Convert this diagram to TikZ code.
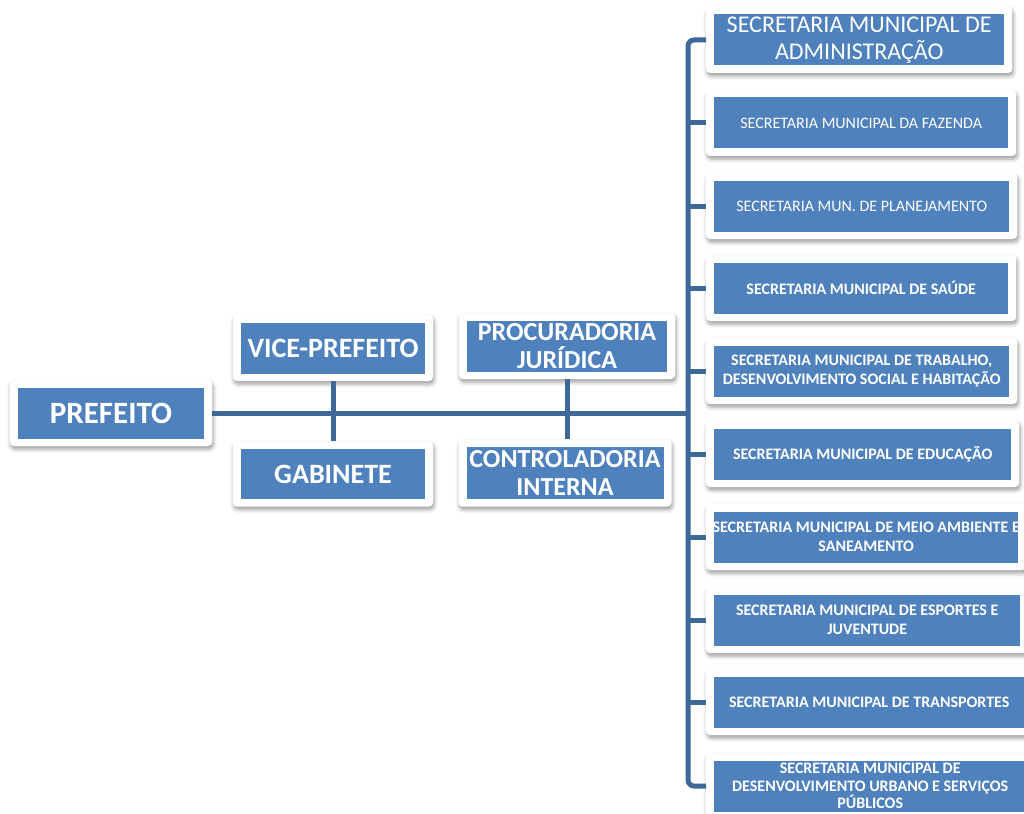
\documentclass[tikz,border=0pt]{standalone}
\usepackage{fontspec}
\setmainfont{Carlito}
\usetikzlibrary{shadows.blur}
\definecolor{orgblue}{RGB}{79,129,189}
\definecolor{orgline}{RGB}{62,104,152}

\begin{document}
\begin{tikzpicture}
  [x=1pt,y=-1pt,
   box/.style={fill=white,rounded corners=4pt,inner sep=0pt,minimum height=66pt,
     text=white,align=center,
     blur shadow={shadow xshift=1pt,shadow yshift=-3pt,shadow blur radius=4pt,shadow opacity=40},
     path picture={\fill[orgblue,sharp corners]
       ([shift={(8pt,-7.5pt)}]path picture bounding box.north west) rectangle
       ([shift={(-8pt,7.5pt)}]path picture bounding box.south east);}},
   sec/.style={box,anchor=west,font=\fontsize{16}{19}\selectfont\bfseries},
   big/.style={box,font=\fontsize{28}{30}\selectfont\bfseries},
   mid/.style={box,font=\fontsize{26}{28}\selectfont\bfseries},
   link/.style={draw=orgline,line width=5pt}]

  \clip (0,0) rectangle (1024,813);

  \node[big,minimum width=202pt,font=\fontsize{31}{33}\selectfont\bfseries] (pref) at (111,413) {PREFEITO};
  \node[big,minimum width=200pt] (vice) at (333,348) {VICE-PREFEITO};
  \node[big,minimum width=200pt,minimum height=65pt] (gab) at (333,474) {GABINETE};
  \node[mid,minimum width=216pt] (proc) at (567,346) {PROCURADORIA\\JURÍDICA};
  \node[mid,minimum width=213pt,minimum height=67pt] (ctrl) at (565,473) {CONTROLADORIA\\INTERNA};

  \node[sec,minimum width=306pt,font=\fontsize{24}{27}\selectfont] (s1) at (706,40) {SECRETARIA MUNICIPAL DE\\ADMINISTRAÇÃO};
  \node[sec,minimum width=310pt,font=\fontsize{16}{19}\selectfont] (s2) at (706,123) {SECRETARIA MUNICIPAL DA FAZENDA};
  \node[sec,minimum width=311pt,font=\fontsize{16}{19}\selectfont] (s3) at (706,206) {SECRETARIA MUN. DE PLANEJAMENTO};
  \node[sec,minimum width=310pt] (s4) at (706,288) {SECRETARIA MUNICIPAL DE SAÚDE};
  \node[sec,minimum width=311pt] (s5) at (706,371) {SECRETARIA MUNICIPAL DE TRABALHO,\\DESENVOLVIMENTO SOCIAL E HABITAÇÃO};
  \node[sec,minimum width=313pt] (s6) at (706,454) {SECRETARIA MUNICIPAL DE EDUCAÇÃO};
  \node[sec,minimum width=320pt] (s7) at (706,537) {SECRETARIA MUNICIPAL DE MEIO AMBIENTE E\\SANEAMENTO};
  \node[sec,minimum width=322pt] (s8) at (706,620) {SECRETARIA MUNICIPAL DE ESPORTES E\\JUVENTUDE};
  \node[sec,minimum width=326pt] (s9) at (706,702) {SECRETARIA MUNICIPAL DE TRANSPORTES};
  \node[sec,minimum width=328pt,font=\fontsize{16}{17.5}\selectfont\bfseries] (s10) at (706,786) {SECRETARIA MUNICIPAL DE\\DESENVOLVIMENTO URBANO E SERVIÇOS\\PÚBLICOS};

  \coordinate (bus) at (688,413);

  \draw[link] (pref) -- (bus);
  \draw[link,rounded corners=6pt] (s1.west) -| (bus) |- (s10.west);
  \foreach \i in {2,...,9}
    \draw[link] (s\i.west) -- (s\i.west -| bus);
  \draw[link] (vice) -- (gab);
  \draw[link] (proc.south) -- (proc.south |- ctrl.north);

\end{tikzpicture}
\end{document}
